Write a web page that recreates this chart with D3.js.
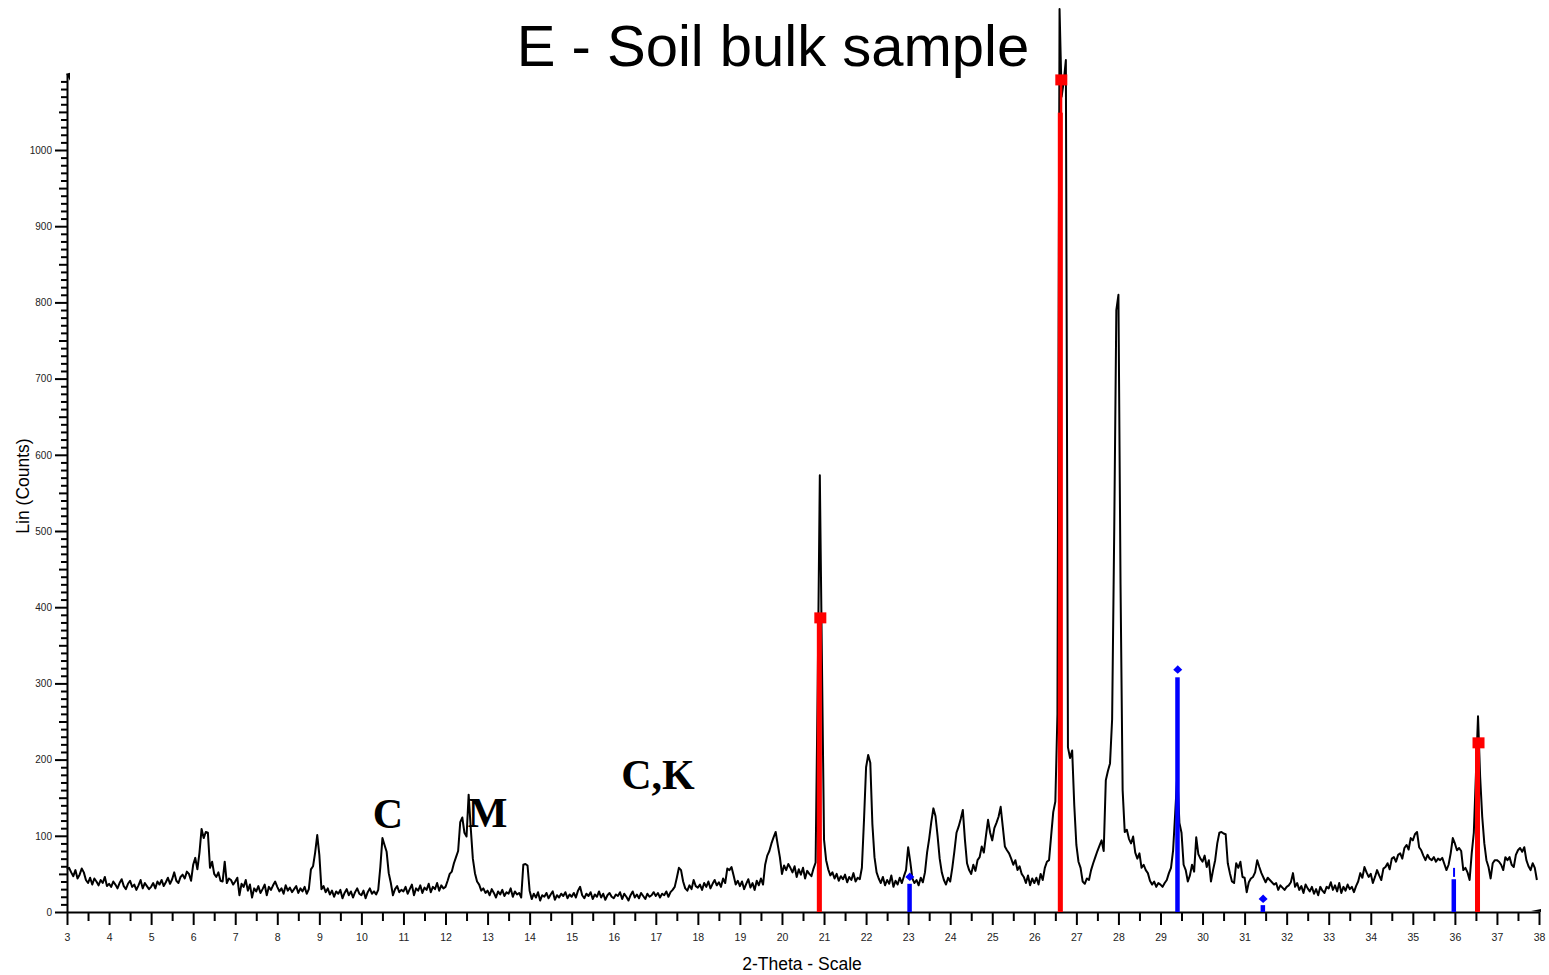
<!DOCTYPE html>
<html>
<head>
<meta charset="utf-8">
<script src="https://cdn.jsdelivr.net/npm/d3@7"></script>
<style>
body{margin:0;background:#fff;}
</style>
</head>
<body>
<script>
// diffractogram, one row per degree (step 0.05)
var thetaStart = 3, thetaStep = 0.05;
var counts = [
 56,58,52,47,55,44,49,57,52,42,38,45,36,44,40,35,42,38,46,34,
 37,33,40,36,31,38,43,34,30,37,41,33,36,29,35,42,31,38,34,30,
 33,38,31,40,36,42,34,39,45,37,43,52,41,38,46,49,44,53,50,41,
 62,71,56,78,109,97,105,104,58,66,50,46,52,41,40,66,38,44,42,36,
 40,45,22,37,33,42,28,36,19,31,27,34,25,30,36,22,33,29,35,40,
 33,27,31,24,35,28,32,26,30,34,25,31,27,33,24,30,56,60,78,101,
 75,30,34,26,31,23,28,20,27,24,29,18,25,30,22,27,19,26,31,24,
 22,28,18,26,31,24,27,23,29,59,97,88,79,51,38,22,30,34,26,29,
 27,33,24,30,36,22,31,28,35,25,32,29,37,26,33,30,38,28,35,31,
 33,41,50,53,64,72,80,118,124,104,99,154,110,70,51,40,36,28,31,25,
 28,22,30,25,19,27,23,29,21,26,24,31,20,27,23,25,19,62,63,61,
 28,17,24,19,26,15,22,20,25,18,23,27,16,22,19,24,21,26,18,23,
 20,25,19,28,33,22,18,24,21,26,17,23,20,27,19,24,16,22,25,20,
 18,23,21,26,17,24,20,15,22,27,19,23,18,25,21,17,24,20,22,26,
 21,25,19,24,22,27,20,26,29,33,45,58,55,40,31,28,35,30,42,34,
 32,36,29,38,33,40,31,37,42,35,39,33,44,38,57,55,59,48,36,41,
 34,40,30,37,43,32,38,29,41,35,44,36,62,74,80,90,98,105,88,72,
 50,61,55,63,58,52,60,46,56,49,58,44,54,50,47,57,65,300,573,330,
 95,68,56,48,52,44,50,41,47,43,49,39,46,42,51,40,45,43,58,120,
 190,206,196,115,72,52,44,38,46,35,42,37,48,33,41,36,45,38,47,55,
 85,66,44,38,42,35,45,39,52,78,96,118,136,126,100,70,52,42,36,45,
 40,58,80,104,112,122,134,95,64,55,50,62,54,68,72,86,78,100,121,104,
 94,110,117,125,138,112,86,81,77,70,62,68,55,60,50,46,38,48,35,44,
 38,45,36,50,42,58,66,68,100,131,145,260,1185,1070,1090,1118,216,202,212,140,
 88,66,58,40,37,44,42,55,64,72,80,87,94,80,173,185,195,253,500,790,
 810,430,160,105,108,96,90,99,78,70,77,58,62,55,51,41,36,40,33,38,
 36,33,38,42,51,58,81,130,180,117,104,62,55,40,48,62,53,98,76,70,
 66,74,59,68,40,55,68,90,104,105,103,102,64,51,40,38,64,58,66,46,
 45,26,39,44,46,52,68,59,51,45,39,45,42,39,36,38,29,35,32,29,
 33,35,39,51,33,38,29,34,25,36,31,27,33,24,30,22,33,28,25,33,
 31,39,29,35,27,38,25,33,28,36,30,33,26,34,40,51,45,59,52,46,
 50,38,46,55,48,42,57,59,64,56,70,72,66,75,77,70,84,88,82,97,
 94,102,105,85,81,74,68,75,70,68,72,66,70,68,71,63,55,62,77,97,
 90,81,84,80,55,58,52,42,77,104,180,257,178,125,90,68,59,44,64,68,
 68,66,62,55,72,68,72,62,59,75,81,84,79,85,68,60,55,64,58,42
];

// reference sticks
var redTheta = [20.9, 26.63, 36.55];
var redStick = [386, 1049, 222];
var redMark = [386, 1092, 222];
var blueTheta = [23.04, 29.41, 31.44, 35.98];
var blueStick = [37, 308, 9, 43];
var blueMark = [46, 318, 17, 52];
var blueShape = ["diamond", "diamond", "diamond", "dash"];

// phase letters
var labelText = ["C", "M", "C,K"];
var labelTheta = [10.63, 13.0, 17.05];
var labelCounts = [110, 112, 161];

var xTicks = d3.range(3, 39);
var xMinor = d3.range(3.5, 38, 1);
var yTicks = d3.range(0, 1001, 100);

var width = 1549, height = 975;
var font = "'Liberation Sans', Arial, sans-serif";

var svg = d3.select("body").append("svg")
  .attr("width", width)
  .attr("height", height)
  .style("display", "block");

var x = d3.scaleLinear().domain([3, 38]).range([67, 1539]);
var y = d3.scaleLinear().domain([0, 1100]).range([912, 73.8]);

var pts = counts.map(function(c, i) { return [thetaStart + i * thetaStep, c]; });

// y axis: minor, mid, major
function styleAxis(g) {
  g.selectAll("line").attr("stroke", "#000").attr("stroke-width", 2);
  g.selectAll("text").attr("fill", "#222").style("font-family", font);
}
svg.append("g").attr("transform", "translate(67,0)")
  .call(d3.axisLeft(y).tickValues(d3.range(0, 1101, 10).filter(function(v){ return v % 50; }))
    .tickSize(6).tickFormat(""))
  .call(styleAxis)
  .select(".domain").remove();
svg.append("g").attr("transform", "translate(67,0)")
  .call(d3.axisLeft(y).tickValues([50,150,250,350,450,550,650,750,850,950,1050])
    .tickSize(8).tickFormat(""))
  .call(styleAxis)
  .select(".domain").remove();
var yAxis = svg.append("g").attr("transform", "translate(67,0)")
  .call(d3.axisLeft(y).tickValues(yTicks).tickSize(12).tickSizeOuter(0).tickPadding(3)
    .tickFormat(d3.format("d")))
  .call(styleAxis);
yAxis.select(".domain").attr("stroke", "#000").attr("stroke-width", 2);
yAxis.selectAll("text").style("font-size", "10px");

// x axis
svg.append("g").attr("transform", "translate(0,912)")
  .call(d3.axisBottom(x).tickValues(xMinor).tickSize(9).tickFormat(""))
  .call(styleAxis)
  .select(".domain").remove();
var xAxis = svg.append("g").attr("transform", "translate(0,912)")
  .call(d3.axisBottom(x).tickValues(xTicks).tickSize(13).tickSizeOuter(0).tickPadding(9)
    .tickFormat(d3.format("d")))
  .call(styleAxis);
xAxis.select(".domain").attr("stroke", "#000").attr("stroke-width", 2);
xAxis.selectAll("text").style("font-size", "10.5px");

// small arrow heads at axis ends
svg.append("path")
  .attr("d", "M" + (x.range()[0] - 1) + "," + y.range()[1] + "l4,-1l0,8z")
  .attr("fill", "#000");
svg.append("path")
  .attr("d", "M" + (x.range()[1] - 8) + "," + (y.range()[0] - 1) + "l10,-2l0,3z")
  .attr("fill", "#000");

// pattern
svg.append("path")
  .datum(pts)
  .attr("fill", "none")
  .attr("stroke", "#000")
  .attr("stroke-width", 2)
  .attr("stroke-linejoin", "round")
  .attr("d", d3.line().x(function(d){ return x(d[0]); }).y(function(d){ return y(d[1]); }));

// red sticks
var red = svg.append("g").attr("fill", "#ff0000");
red.selectAll("rect.bar").data(redTheta).enter().append("rect")
  .attr("x", function(d){ return x(d) - 3; })
  .attr("width", 5)
  .attr("y", function(d, i){ return y(redStick[i]); })
  .attr("height", function(d, i){ return y(0) - y(redStick[i]); });
red.selectAll("rect.thin").data(redTheta).enter().append("rect")
  .attr("x", function(d){ return x(d) - 1; })
  .attr("width", 2.5)
  .attr("y", function(d, i){ return y(redMark[i]); })
  .attr("height", function(d, i){ return y(0) - y(redMark[i]); });
red.selectAll("rect.mark").data(redTheta).enter().append("rect")
  .attr("x", function(d){ return x(d) - 5.5; })
  .attr("width", 12)
  .attr("y", function(d, i){ return y(redMark[i]) - 5.5; })
  .attr("height", 11);

// blue sticks
var blue = svg.append("g").attr("fill", "#0000ff");
blue.selectAll("rect.bar").data(blueTheta).enter().append("rect")
  .attr("x", function(d){ return x(d) - 2.5; })
  .attr("width", 4.5)
  .attr("y", function(d, i){ return y(blueStick[i]); })
  .attr("height", function(d, i){ return y(0) - y(blueStick[i]); });
blue.selectAll("path.mark").data(blueTheta).enter().append("path")
  .attr("transform", function(d, i){ return "translate(" + x(d) + "," + y(blueMark[i]) + ")"; })
  .attr("d", function(d, i){
    return blueShape[i] == "diamond" ? "M0,-4.5L4.5,0L0,4L-4.5,0Z" : "M-1,-4.5h2v9h-2Z";
  });

// phase letters
svg.selectAll("text.phase").data(labelText).enter().append("text")
  .attr("x", function(d, i){ return x(labelTheta[i]); })
  .attr("y", function(d, i){ return y(labelCounts[i]); })
  .attr("text-anchor", "middle")
  .style("font-family", "'Liberation Serif', 'Times New Roman', serif")
  .style("font-weight", "bold")
  .style("font-size", "42px")
  .text(function(d){ return d; });

// titles
svg.append("text")
  .attr("x", 773).attr("y", 66)
  .attr("text-anchor", "middle")
  .style("font-family", font).style("font-size", "58px")
  .text("E - Soil bulk sample");
svg.append("text")
  .attr("transform", "translate(29,486) rotate(-90)")
  .attr("text-anchor", "middle")
  .style("font-family", font).style("font-size", "17.5px")
  .text("Lin (Counts)");
svg.append("text")
  .attr("x", 802).attr("y", 970)
  .attr("text-anchor", "middle")
  .style("font-family", font).style("font-size", "17.5px")
  .text("2-Theta - Scale");
</script>
</body>
</html>
